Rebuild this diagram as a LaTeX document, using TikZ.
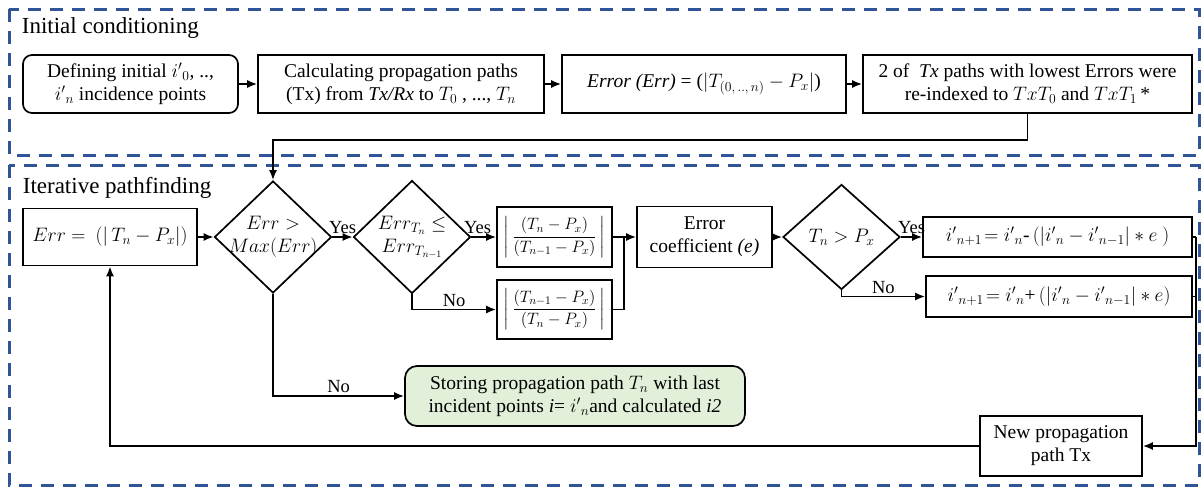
\documentclass[tikz,border=0pt]{standalone}
\usepackage{fix-cm}
\usepackage{amsmath}
\usepackage{fontspec}
\setmainfont{Liberation Serif}[Ligatures=TeX]
\usetikzlibrary{positioning,shapes.geometric,arrows.meta}

\definecolor{framecol}{HTML}{2F5597}
\definecolor{storefill}{HTML}{E2F0D9}
\newcommand\boxfont{\rmfamily\fontsize{19.5}{23}\selectfont}
\newcommand\titlefont{\rmfamily\fontsize{23}{27}\selectfont}
\newcommand\lblfont{\rmfamily\fontsize{18.5}{21}\selectfont}
\newcommand\fracfont{\rmfamily\fontsize{16.5}{20}\selectfont}

\begin{document}
\begin{tikzpicture}[x=1pt,y=-1pt,on grid,line width=1.7pt,
  >={Latex[length=10pt,width=8pt]},
  blk/.style={draw,inner sep=0pt,align=center,font=\boxfont},
  rblk/.style={blk,rounded corners=9pt},
  decision/.style={diamond,draw,inner sep=0pt,minimum width=117pt},
  frame/.style={draw=framecol,line width=3pt,dash pattern=on 13pt off 9pt},
  lbl/.style={font=\lblfont,inner sep=2pt}]
\useasboundingbox (0,0) rectangle (1202,488);

% the two stages
\draw[frame] (9,9) rectangle (1199,155);
\draw[frame] (9,165) rectangle (1199,485);
\node[anchor=base west,font=\titlefont,inner sep=0pt] (ttlinit) at (21,33) {Initial conditioning};
\node[anchor=base west,font=\titlefont,inner sep=0pt] (ttliter) at (22,193) {Iterative pathfinding};

% initial conditioning
\node[rblk,minimum width=215pt,minimum height=58pt] (init) at (130.5,84)
  {Defining initial ${i'}_0$, ..,\\ ${i'}_n$ incidence points};
\node[blk,minimum width=286pt,minimum height=58pt] (calc) [right=270.5pt of init]
  {Calculating propagation paths\\ (Tx) from \textit{Tx/Rx} to $T_0$ , ..., $T_n$};
\node[blk,minimum width=284pt,minimum height=58pt] (errall) [right=303pt of calc]
  {\textit{Error (Err)} = ($|T_{(0,\,..,\,n)}-P_x|$)};
\node[blk,minimum width=329pt,minimum height=58pt] (best) [right=323.5pt of errall]
  {2 of \ \textit{Tx} paths with lowest Errors were\\ re-indexed to $TxT_0$ and $TxT_1$\,*};

% iterative pathfinding
\node[blk,minimum width=174pt,minimum height=57pt] (errb) at (110,237)
  {$Err=\ (|\,T_n-P_x|)$};
\node[decision,minimum height=112pt,
  label={[align=center,font=\boxfont]center:{$Err>$\\$Max(Err)$}}] (chk) [right=163pt of errb] {};
\node[decision,minimum height=113pt,
  label={[align=center,font=\boxfont]center:{$Err_{T_n}\leq$\\$Err_{T_{n-1}}$}}] (cmp) [right=139pt of chk] {};
\node[blk,minimum width=115pt,minimum height=60pt,font=\fracfont] (rfwd) [right=142.5pt of cmp]
  {$\biggl|\,\dfrac{(T_n-P_x)}{(T_{n-1}-P_x)}\,\biggr|$};
\node[blk,minimum width=115pt,minimum height=59pt,font=\fracfont] (rbwd) [below=72.5pt of rfwd]
  {$\biggl|\,\dfrac{(T_{n-1}-P_x)}{(T_n-P_x)}\,\biggr|$};
\node[blk,minimum width=135pt,minimum height=61pt] (coef) [right=150pt of rfwd]
  {Error\\ coefficient \textit{(e)}};
\node[decision,minimum height=105pt,
  label={[font=\boxfont]center:$T_n>P_x$}] (sgn) [right=137pt of coef] {};
\node[blk,minimum width=269pt,minimum height=40pt] (lower) [right=216pt of sgn]
  {${i'}_{n+1}\!={i'}_n$-\,$(|{i'}_n-{i'}_{n-1}|\ast e\ )$};
\node[blk,minimum width=266pt,minimum height=41pt] (raise) at (1059,296.5)
  {${i'}_{n+1}\!={i'}_n$+\,$(|{i'}_n-{i'}_{n-1}|\ast e)$};
\node[rblk,fill=storefill,minimum width=340pt,minimum height=60pt,rounded corners=12pt] (store) at (575,396)
  {Storing propagation path $T_n$ with last\\ incident points \textit{i}= ${i'}_n$and calculated \textit{i2}};
\node[blk,minimum width=162pt,minimum height=60pt] (newp) at (1061,446)
  {New propagation\\ path Tx};

\coordinate (mrg) at (624,237);
\coordinate (rt) at (1196,237);

% connectors
\draw[->] (init) -- (calc);
\draw[->] (calc) -- (errall);
\draw[->] (errall) -- (best);
\draw[->] (best.south) -- ++(0,26) -| (chk.north);
\draw[->] (errb) -- (chk);
\draw[->] (chk) -- node[lbl,above] {Yes} (cmp);
\draw[->] (chk.south) |- node[lbl,above,pos=0.75] {No} (store.west);
\draw[->] (cmp) -- node[lbl,above,pos=0.25] {Yes} (rfwd);
\draw[->] (cmp.south) |- node[lbl,above,pos=0.75] {No} (rbwd);
\draw[->] (rfwd) -- (coef);
\draw (rbwd.east) -| (mrg);
\draw[->] (coef) -- (sgn);
\draw[->] (sgn) -- node[lbl,above] {Yes} (lower);
\draw[->] (sgn.south) |- node[lbl,above,pos=0.75] {No} (raise);
\draw (lower.east) -- (rt);
\draw (raise.east) -- (raise.east -| rt);
\draw[->] (rt) |- (newp.east);
\draw[->] (newp.west) -| (errb.south);
\end{tikzpicture}
\end{document}
